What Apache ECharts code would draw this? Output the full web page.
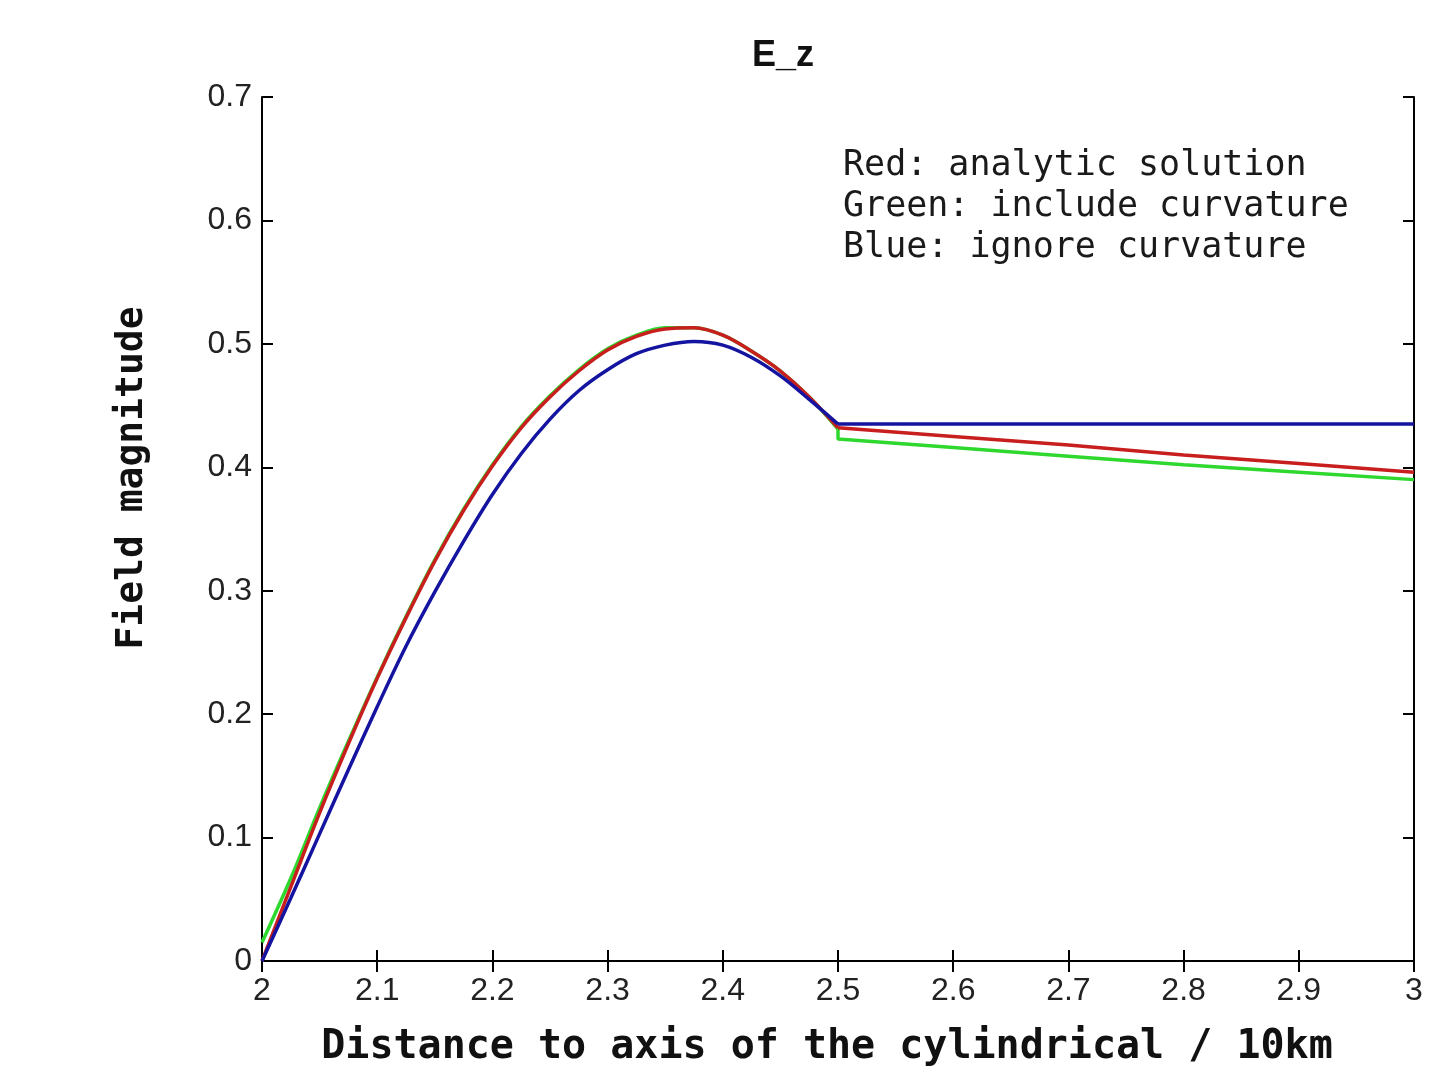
<!DOCTYPE html>
<html>
<head>
<meta charset="utf-8">
<script src="https://cdn.jsdelivr.net/npm/echarts@6/dist/echarts.min.js"></script>
<style>html,body{margin:0;padding:0;background:#fff}#c{width:1431px;height:1072px}</style>
</head>
<body>
<div id="c"></div>
<script>
// ---- data ----
const titleText = 'E_z';
const xName = 'Distance to axis of the cylindrical / 10km';
const yName = 'Field magnitude';
const legendLines = ['Red: analytic solution', 'Green: include curvature', 'Blue: ignore curvature'];

const xRise = [2.000, 2.025, 2.050, 2.075, 2.100, 2.125, 2.150, 2.175, 2.200, 2.225, 2.250,
               2.275, 2.300, 2.325, 2.350, 2.375, 2.400, 2.425, 2.450, 2.475, 2.500];
const redRise   = [0.000, 0.060, 0.120, 0.176, 0.229, 0.278, 0.324, 0.365, 0.401, 0.432, 0.457,
                   0.478, 0.495, 0.506, 0.512, 0.513, 0.507, 0.494, 0.478, 0.457, 0.432];
const greenRise = [0.015, 0.067, 0.124, 0.178, 0.230, 0.279, 0.325, 0.366, 0.402, 0.433, 0.458,
                   0.479, 0.496, 0.507, 0.513, 0.513, 0.507, 0.494, 0.478, 0.457, 0.431];
const blueRise  = [0.000, 0.051, 0.103, 0.155, 0.206, 0.255, 0.299, 0.340, 0.378, 0.411, 0.439,
                   0.462, 0.479, 0.492, 0.499, 0.502, 0.499, 0.489, 0.474, 0.455, 0.435];

const xTail = [2.5, 2.6, 2.7, 2.8, 2.9, 3.0];
const redTail   = [0.432, 0.425, 0.418, 0.410, 0.403, 0.396];
const greenTail = [0.423, 0.416, 0.409, 0.402, 0.396, 0.390];
const blueTail  = [0.435, 0.435, 0.435, 0.435, 0.435, 0.435];

function pairs(xs, ys) { return xs.map((x, i) => [x, ys[i]]); }

const chart = echarts.init(document.getElementById('c'), null, {renderer: 'canvas'});
const axisLineStyle = {color: '#000', width: 2};
const labelFont = {fontFamily: 'Liberation Sans', fontSize: 32, color: '#222'};
const mono = 'DejaVu Sans Mono';

function lineSeries(name, data, color, z, smooth) {
  return {name: name, type: 'line', xAxisIndex: 0, yAxisIndex: 0, showSymbol: false,
          smooth: smooth, data: data, lineStyle: {color: color, width: 3.5}, z: z};
}

// green tail begins with the vertical drop at 2.5 from the end of its rise
const greenTailData = [[xRise[xRise.length - 1], greenRise[greenRise.length - 1]]].concat(pairs(xTail, greenTail));

const option = {
  backgroundColor: '#fff',
  animation: false,
  title: {
    text: titleText, left: 778, top: 33, textAlign: 'center',
    textStyle: {fontFamily: 'Liberation Sans', fontWeight: 'bold', fontSize: 36, color: '#111'}
  },
  grid: {left: 262, right: 17, top: 97, bottom: 111, containLabel: false},
  xAxis: [{
    type: 'value', min: 2, max: 3, interval: 0.1, position: 'bottom',
    axisLine: {lineStyle: axisLineStyle},
    axisTick: {inside: true, length: 11, lineStyle: axisLineStyle},
    axisLabel: Object.assign({margin: 14}, labelFont),
    splitLine: {show: false}
  }, {
    type: 'value', min: 2, max: 3, interval: 0.1, position: 'top',
    axisLine: {lineStyle: axisLineStyle},
    axisTick: {inside: true, length: 11, lineStyle: axisLineStyle},
    axisLabel: {show: false}, splitLine: {show: false}
  }],
  yAxis: [{
    type: 'value', min: 0, max: 0.7, interval: 0.1, position: 'left',
    axisLine: {lineStyle: axisLineStyle},
    axisTick: {inside: true, length: 11, lineStyle: axisLineStyle},
    axisLabel: Object.assign({margin: 10}, labelFont),
    splitLine: {show: false}
  }, {
    type: 'value', min: 0, max: 0.7, interval: 0.1, position: 'right',
    axisLine: {lineStyle: axisLineStyle},
    axisTick: {inside: true, length: 11, lineStyle: axisLineStyle},
    axisLabel: {show: false}, splitLine: {show: false}
  }],
  series: [
    lineSeries('Green', pairs(xRise, greenRise), '#2ed82e', 2, 0.35),
    lineSeries('Green', greenTailData, '#2ed82e', 2, false),
    lineSeries('Red', pairs(xRise, redRise), '#c81e1e', 3, 0.35),
    lineSeries('Red', pairs(xTail, redTail), '#c81e1e', 3, false),
    lineSeries('Blue', pairs(xRise, blueRise), '#1414a0', 4, 0.35),
    lineSeries('Blue', pairs(xTail, blueTail), '#1414a0', 4, false)
  ],
  graphic: legendLines.map((t, i) => ({
    type: 'text', left: 843, top: 148 + i * 41,
    style: {text: t, fontFamily: mono, fontSize: 35, fill: '#1a1a1a'}
  })).concat([
    {type: 'text', x: 827, y: 1048,
     style: {text: xName, fontFamily: mono, fontWeight: 'bold', fontSize: 40, fill: '#111',
             align: 'center', verticalAlign: 'middle'}},
    {type: 'text', x: 132, y: 478, rotation: Math.PI / 2,
     style: {text: yName, fontFamily: mono, fontWeight: 'bold', fontSize: 38, fill: '#111',
             align: 'center', verticalAlign: 'middle'}}
  ])
};
chart.setOption(option);
</script>
</body>
</html>
